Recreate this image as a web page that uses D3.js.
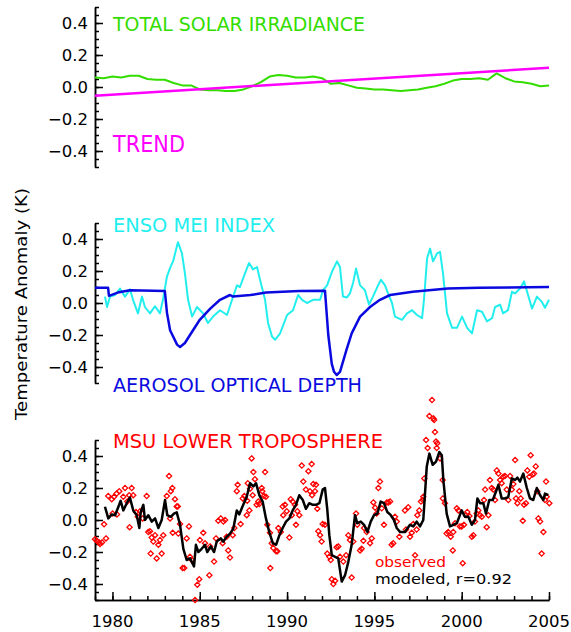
<!DOCTYPE html>
<html>
<head>
<meta charset="utf-8">
<script src="https://cdn.jsdelivr.net/npm/d3@7"></script>
<style>
  body { margin: 0; background: #fff; }
  svg { display: block; }
</style>
</head>
<body>
<div id="chart"></div>
<script>

// ---- data ----

// total solar irradiance (top panel)
var tsiYears = [1979.0,1979.5,1980.0,1980.5,1981.0,1981.5,1982.0,1982.5,1983.0,1983.5,1984.0,1984.5,1985.0,1985.5,1986.0,1986.5,1987.0,1987.5,1988.0,1988.5,1989.0,1989.5,1990.0,1990.5,1991.0,1991.5,1992.0,1992.5,1993.0,1993.5,1994.0,1994.5,1995.0,1995.5,1996.0,1996.5,1997.0,1997.5,1998.0,1998.5,1999.0,1999.5,2000.0,2000.5,2001.0,2001.5,2002.0,2002.5,2003.0,2003.5,2004.0,2004.5,2005.0];
var tsiValues = [0.06,0.055,0.065,0.06,0.07,0.07,0.05,0.045,0.045,0.025,0.01,0.01,-0.015,-0.02,-0.02,-0.025,-0.025,-0.015,0.005,0.03,0.065,0.075,0.07,0.06,0.06,0.065,0.055,0.02,0.025,0.01,-0.005,-0.01,-0.015,-0.015,-0.02,-0.025,-0.02,-0.015,-0.005,0.005,0.02,0.04,0.05,0.05,0.055,0.045,0.085,0.055,0.035,0.03,0.02,0.005,0.01];

var trendYears = [1979, 2005];
var trendValues = [-0.055, 0.12];

// ENSO MEI index (middle panel)
var ensoYears = [1979.57,1979.69,1979.86,1980.15,1980.43,1980.72,1981.0,1981.18,1981.46,1981.69,1981.86,1982.15,1982.44,1982.72,1982.89,1983.12,1983.3,1983.47,1983.75,1983.98,1984.15,1984.33,1984.56,1984.84,1985.19,1985.47,1985.76,1986.16,1986.56,1986.85,1987.13,1987.3,1987.59,1987.82,1988.05,1988.28,1988.45,1988.74,1988.91,1989.14,1989.31,1989.6,1990.0,1990.34,1990.63,1990.86,1991.14,1991.49,1991.89,1992.06,1992.29,1992.57,1992.86,1993.03,1993.2,1993.43,1993.6,1993.78,1993.95,1994.18,1994.46,1994.69,1994.92,1995.21,1995.38,1995.61,1995.78,1996.01,1996.18,1996.58,1996.87,1997.16,1997.44,1997.73,1997.84,1998.02,1998.19,1998.36,1998.59,1998.76,1998.93,1999.16,1999.45,1999.73,2000.02,2000.31,2000.59,2000.88,2001.16,2001.45,2001.74,2001.91,2002.2,2002.37,2002.65,2002.88,2003.05,2003.34,2003.57,2003.8,2004.03,2004.31,2004.6,2004.77,2005.0];
var ensoValues = [0.04,-0.025,0.04,0.05,0.09,0.04,0.085,0.02,-0.065,0.04,-0.025,-0.065,-0.02,-0.065,0.02,0.165,0.22,0.26,0.38,0.31,0.185,0.02,-0.085,-0.025,-0.065,-0.125,-0.085,-0.045,-0.075,0.02,0.11,0.1,0.185,0.25,0.21,0.225,0.145,0.02,-0.125,-0.21,-0.23,-0.19,-0.075,-0.045,0.05,0.02,0,0.02,0.02,0.08,0.11,0.195,0.26,0.225,0.04,0.035,0.06,0.125,0.215,0.11,0.08,-0.01,0.04,0.11,0.145,0.11,0.06,0,-0.085,-0.105,-0.065,-0.045,-0.075,-0.095,0.02,0.28,0.34,0.26,0.31,0.32,0.185,-0.065,-0.155,-0.155,-0.085,-0.155,-0.19,-0.045,-0.055,-0.115,-0.095,-0.025,-0.01,-0.065,-0.045,0.07,0.06,0.09,0.135,0.05,-0.035,0.04,0.005,-0.03,0.02];

// aerosol optical depth (middle panel)
var aodYears = [1979.0,1979.75,1979.8,1980.3,1981.0,1983.0,1983.12,1983.3,1983.7,1983.87,1984.15,1984.44,1985.0,1985.6,1986.16,1986.73,1986.9,1987.9,1988.8,1990.7,1992.17,1992.36,1992.46,1992.56,1992.69,1992.84,1993.03,1993.41,1993.7,1994.18,1994.75,1995.32,1995.9,1997.2,1999.2,2001.0,2005.0];
var aodValues = [0.095,0.095,0.045,0.065,0.08,0.075,-0.06,-0.17,-0.26,-0.275,-0.25,-0.2,-0.105,-0.035,0.02,0.05,0.04,0.05,0.065,0.075,0.077,-0.2,-0.29,-0.38,-0.43,-0.45,-0.43,-0.29,-0.19,-0.085,-0.025,0.02,0.05,0.07,0.09,0.095,0.1];

// MSU lower troposphere, observed (bottom panel)
var obsYears = [1979.0,1979.11,1979.23,1979.29,1979.4,1979.52,1979.63,1979.76,1979.96,1980.01,1980.09,1980.24,1980.26,1980.39,1980.62,1980.72,1980.85,1980.96,1980.98,1981.1,1981.19,1981.35,1981.45,1981.58,1981.73,1981.96,1982.05,1982.15,1982.19,1982.25,1982.34,1982.44,1982.53,1982.63,1982.72,1982.82,1982.91,1983.11,1983.24,1983.3,1983.34,1983.43,1983.45,1983.58,1983.68,1983.74,1983.77,1983.87,1984.02,1984.11,1984.25,1984.38,1984.44,1984.54,1984.73,1984.86,1984.97,1985.01,1985.2,1985.3,1985.55,1985.59,1985.82,1985.93,1986.06,1986.2,1986.31,1986.35,1986.45,1986.54,1986.63,1986.73,1986.89,1986.98,1987.12,1987.17,1987.34,1987.46,1987.55,1987.69,1987.72,1987.75,1987.84,1987.88,1987.97,1988.03,1988.07,1988.16,1988.26,1988.35,1988.41,1988.55,1988.58,1988.68,1988.74,1988.79,1988.87,1989.02,1989.04,1989.12,1989.21,1989.37,1989.44,1989.5,1989.64,1989.75,1989.78,1989.88,1989.98,1990.13,1990.21,1990.27,1990.32,1990.45,1990.51,1990.59,1990.7,1990.84,1990.93,1991.08,1991.22,1991.31,1991.41,1991.43,1991.5,1991.6,1991.66,1991.73,1991.79,1991.89,1991.98,1992.04,1992.17,1992.3,1992.42,1992.5,1992.56,1992.65,1992.75,1992.84,1992.93,1993.03,1993.22,1993.38,1993.51,1993.6,1993.7,1993.79,1993.95,1994.02,1994.18,1994.27,1994.37,1994.41,1994.56,1994.75,1994.85,1994.94,1995.04,1995.13,1995.23,1995.32,1995.42,1995.55,1995.71,1995.8,1995.9,1995.99,1996.08,1996.18,1996.28,1996.43,1996.75,1996.81,1996.94,1997.04,1997.14,1997.23,1997.33,1997.42,1997.46,1997.57,1997.67,1997.77,1997.8,1997.86,1997.96,1998.05,1998.15,1998.3,1998.38,1998.42,1998.47,1998.53,1998.57,1998.6,1998.76,1998.91,1998.92,1999.04,1999.14,1999.23,1999.37,1999.49,1999.52,1999.62,1999.72,1999.81,1999.9,2000.0,2000.06,2000.13,2000.25,2000.32,2000.44,2000.58,2000.67,2000.76,2000.86,2000.95,2001.05,2001.15,2001.28,2001.34,2001.43,2001.53,2001.62,2001.72,2001.81,2001.91,2002.01,2002.1,2002.2,2002.29,2002.38,2002.48,2002.58,2002.67,2002.77,2002.87,2002.96,2003.06,2003.11,2003.19,2003.3,2003.38,2003.5,2003.57,2003.68,2003.76,2003.87,2003.95,2004.07,2004.14,2004.24,2004.33,2004.39,2004.49,2004.58,2004.68,2004.77,2004.83,2004.87,2005.02];
var obsValues = [-0.12,-0.13,-0.14,-0.15,-0.14,-0.027,-0.115,0.15,0.13,0.04,0.145,0.165,0.035,0.18,0.145,0.2,0.115,0.155,-0.045,0.2,0.155,0.05,0.02,0.055,0.01,0.15,-0.075,-0.07,-0.21,-0.11,-0.135,-0.095,-0.24,-0.155,-0.125,-0.21,-0.095,0.15,0.275,0.01,0.18,0.2,-0.08,0.13,0.085,0.085,-0.085,-0.025,-0.3,-0.3,-0.115,-0.04,-0.23,-0.25,-0.5,-0.405,-0.37,-0.125,-0.08,-0.145,-0.345,-0.165,-0.26,-0.115,-0.005,0.01,-0.145,-0.01,0.0,-0.105,-0.19,-0.235,-0.095,-0.05,0.18,0.22,-0.025,0.135,0.15,0.03,0.12,0.23,0.06,0.195,0.385,0.155,0.3,0.255,0.095,0.115,0.1,0.2,0.18,0.15,0.3,0.145,-0.03,-0.08,-0.3,-0.145,-0.175,-0.195,-0.195,-0.05,-0.075,0.085,0.03,0.095,0.055,-0.11,0.13,0.03,0.115,0.095,-0.03,0.055,0.03,0.34,0.24,0.19,0.305,0.18,0.35,0.155,0.225,0.18,0.22,0.07,-0.07,-0.095,-0.135,-0.025,-0.03,-0.21,-0.23,-0.25,-0.37,-0.4,-0.38,-0.17,-0.165,-0.23,-0.26,-0.22,-0.095,-0.125,-0.36,-0.135,0.04,-0.03,-0.19,-0.18,-0.13,-0.05,-0.075,-0.145,-0.115,0.11,0.077,0.04,0.2,0.24,0.073,-0.03,0.11,0.11,0.115,-0.155,-0.145,0.02,-0.01,-0.105,0.06,-0.06,0.08,-0.105,-0.08,-0.025,-0.22,-0.06,0.03,0.06,0.115,0.125,0.145,0.26,0.5,0.45,0.65,0.75,0.635,0.625,0.55,0.49,0.45,0.48,0.385,0.25,0.135,0.105,-0.085,-0.075,-0.105,-0.19,-0.075,-0.02,0.073,0.06,-0.04,-0.04,-0.27,-0.03,0.03,0.05,0.025,-0.105,-0.095,-0.01,0.04,0.06,0.03,0.02,0.125,0.19,-0.045,0.03,0.25,0.2,0.19,0.125,0.31,0.29,0.25,0.23,0.27,0.275,0.19,0.125,0.275,0.19,0.225,0.375,0.135,0.105,0.18,0.135,-0.005,0.095,0.105,0.31,0.27,0.405,0.285,0.29,0.335,0.18,0.01,-0.01,-0.21,-0.075,0.125,0.24,0.145,0.105];

// MSU lower troposphere, modeled
var modYears = [1979.57,1979.76,1979.96,1980.15,1980.33,1980.47,1980.62,1980.82,1981.0,1981.19,1981.39,1981.54,1981.62,1981.77,1981.86,1982.05,1982.25,1982.44,1982.63,1982.82,1983.01,1983.14,1983.34,1983.52,1983.68,1983.87,1984.06,1984.25,1984.44,1984.67,1984.78,1984.92,1985.11,1985.3,1985.43,1985.63,1985.82,1985.97,1986.2,1986.35,1986.54,1986.73,1986.92,1987.12,1987.26,1987.49,1987.69,1987.88,1988.07,1988.22,1988.41,1988.6,1988.79,1988.98,1989.18,1989.37,1989.56,1989.75,1989.94,1990.13,1990.32,1990.51,1990.7,1990.9,1991.08,1991.27,1991.47,1991.66,1991.85,1992.04,1992.17,1992.3,1992.42,1992.56,1992.75,1992.93,1993.13,1993.32,1993.51,1993.7,1993.89,1994.02,1994.22,1994.41,1994.6,1994.79,1994.98,1995.17,1995.36,1995.55,1995.74,1995.94,1996.12,1996.28,1996.47,1996.75,1997.04,1997.23,1997.42,1997.61,1997.8,1998.0,1998.15,1998.34,1998.53,1998.72,1998.86,1998.95,1999.14,1999.33,1999.52,1999.72,2000.0,2000.19,2000.38,2000.58,2000.76,2000.9,2001.05,2001.24,2001.39,2001.58,2001.78,2001.97,2002.1,2002.29,2002.48,2002.67,2002.87,2003.06,2003.19,2003.34,2003.53,2003.73,2003.91,2004.1,2004.3,2004.49,2004.68,2004.77,2004.96];
var modValues = [0.083,0.01,0.035,0.03,0.08,0.12,0.06,0.105,0.14,0.06,0.03,-0.05,0.05,0.095,0.0,0.03,-0.01,0.01,-0.05,0.0,0.125,0.03,0.02,0.04,0.048,-0.03,-0.18,-0.25,-0.24,-0.29,-0.155,-0.2,-0.18,-0.155,-0.2,-0.165,-0.2,-0.135,-0.115,-0.135,-0.105,-0.085,-0.055,0.06,0.035,0.095,0.145,0.23,0.21,0.23,0.155,0.115,0.01,-0.075,-0.145,-0.155,-0.095,-0.05,-0.01,0.01,0.06,0.095,0.155,0.125,0.07,0.105,0.095,0.095,0.105,0.19,0.2,0.07,-0.095,-0.22,-0.23,-0.24,-0.385,-0.345,-0.26,-0.155,0.03,-0.02,-0.01,-0.03,-0.075,-0.01,0.03,0.04,0.115,0.105,0.05,0.03,0.0,-0.05,-0.075,-0.075,-0.03,-0.04,-0.01,-0.04,0.0,0.335,0.415,0.345,0.365,0.425,0.405,0.25,0.04,-0.04,-0.03,-0.02,0.06,0.02,0.02,-0.03,0.0,0.135,0.105,0.105,0.04,0.125,0.125,0.18,0.22,0.135,0.135,0.145,0.26,0.25,0.265,0.24,0.29,0.2,0.135,0.125,0.2,0.155,0.125,0.165,0.155];

// axis ticks
var yMajorTicks = [-0.4, -0.2, 0.0, 0.2, 0.4];
var yTickLabels = ["\u22120.4", "\u22120.2", "0.0", "0.2", "0.4"];
var xMajorTicks = [1980, 1985, 1990, 1995, 2000, 2005];

// ---- layout ----
var width = 571, height = 632;
var panelTops = [7, 223, 440], panelH = 160;
var tickFont = "'DejaVu Sans', sans-serif";
var labelFont = "'DejaVu Sans Condensed', 'DejaVu Sans', sans-serif";

var svg = d3.select("#chart").append("svg")
  .attr("width", width)
  .attr("height", height)
  .style("background", "#fff");

var x = d3.scaleLinear().domain([1979, 2005]).range([95, 549]);

function pairs(xs, ys) {
  return xs.map(function(d, i) { return [d, ys[i]]; });
}

var yMinor = d3.range(-10, 11).map(function(i) { return i * 0.05; });

var yScales = panelTops.map(function(top) {
  return d3.scaleLinear().domain([-0.5, 0.5]).range([top + panelH, top]);
});

// left axis on every panel, ticks point inward
yScales.forEach(function(y) {
  var minorAxis = d3.axisRight(y).tickValues(yMinor).tickSize(4).tickSizeOuter(0).tickFormat("");
  var majorAxis = d3.axisRight(y).tickValues(yMajorTicks).tickSize(8).tickSizeOuter(0).tickFormat("");
  var g1 = svg.append("g").attr("transform", "translate(95,0)").call(minorAxis);
  var g2 = svg.append("g").attr("transform", "translate(95,0)").call(majorAxis);
  [g1, g2].forEach(function(g) {
    g.selectAll("path, line").attr("stroke", "#000").attr("stroke-width", 1.5);
  });

  svg.append("g").selectAll("text")
    .data(yMajorTicks)
    .enter().append("text")
      .attr("x", 88)
      .attr("y", function(d) { return y(d) + 6; })
      .attr("text-anchor", "end")
      .attr("font-family", tickFont)
      .attr("font-size", 16.5)
      .attr("fill", "#000")
      .text(function(d, i) { return yTickLabels[i]; });
});

// bottom x axis
var yBottom = panelTops[2] + panelH;
var xMinor = d3.range(1979, 2006);
var gx1 = svg.append("g").attr("transform", "translate(0," + yBottom + ")")
  .call(d3.axisTop(x).tickValues(xMinor).tickSize(4).tickSizeOuter(0).tickFormat(""));
var gx2 = svg.append("g").attr("transform", "translate(0," + yBottom + ")")
  .call(d3.axisTop(x).tickValues(xMajorTicks).tickSize(8).tickSizeOuter(0).tickFormat(""));
[gx1, gx2].forEach(function(g) {
  g.selectAll("path, line").attr("stroke", "#000").attr("stroke-width", 1.5);
});
svg.append("g").selectAll("text")
  .data(xMajorTicks)
  .enter().append("text")
    .attr("x", function(d) { return x(d); })
    .attr("y", 627)
    .attr("text-anchor", "middle")
    .attr("font-family", tickFont)
    .attr("font-size", 16.5)
    .text(function(d) { return d; });

// y axis title
svg.append("text")
  .attr("transform", "translate(27,304) rotate(-90)")
  .attr("text-anchor", "middle")
  .attr("font-family", tickFont)
  .attr("font-size", 16.5)
  .attr("textLength", 232)
  .attr("lengthAdjust", "spacingAndGlyphs")
  .text("Temperature Anomaly (K)");

function drawLine(xs, ys, y, color, w) {
  var line = d3.line()
    .x(function(d) { return x(d[0]); })
    .y(function(d) { return y(d[1]); });
  svg.append("path")
    .datum(pairs(xs, ys))
    .attr("d", line)
    .attr("fill", "none")
    .attr("stroke", color)
    .attr("stroke-width", w)
    .attr("stroke-linejoin", "round");
}

function label(txt, x0, base, len, size, color) {
  svg.append("text")
    .attr("x", x0)
    .attr("y", base)
    .attr("font-family", labelFont)
    .attr("font-size", size)
    .attr("textLength", len)
    .attr("lengthAdjust", "spacingAndGlyphs")
    .attr("fill", color)
    .text(txt);
}

// top panel
drawLine(tsiYears, tsiValues, yScales[0], "#33dd00", 2);
drawLine(trendYears, trendValues, yScales[0], "#ff00ff", 2.5);
label("TOTAL SOLAR IRRADIANCE", 113, 31, 252, 19, "#33dd00");
label("TREND", 113, 152, 72, 23, "#ff00ff");

// middle panel
drawLine(ensoYears, ensoValues, yScales[1], "#22eeee", 2);
drawLine(aodYears, aodValues, yScales[1], "#0a0ae0", 2.5);
label("ENSO MEI INDEX", 113, 232, 162, 19, "#22eeee");
label("AEROSOL OPTICAL DEPTH", 113, 392, 249, 19, "#0a0ae0");

// bottom panel
var yb = yScales[2];
svg.append("g").selectAll("path")
  .data(pairs(obsYears, obsValues))
  .enter().append("path")
    .attr("d", function(d) {
      var cx = x(d[0]), cy = yb(d[1]), r = 2.6;
      return "M" + cx + "," + (cy - r) + "L" + (cx + r) + "," + cy + "L" + cx + "," + (cy + r) + "L" + (cx - r) + "," + cy + "Z";
    })
    .attr("fill", "none")
    .attr("stroke", "#ff0000")
    .attr("stroke-width", 1.3);
drawLine(modYears, modValues, yb, "#000", 2.5);
label("MSU LOWER TROPOSPHERE", 113, 448, 270, 19, "#ff0000");

// legend text, sized so the two lines do not collide
label("observed", 375, 567, 71, 14, "#ff0000");
svg.append("text")
  .attr("x", 375).attr("y", 584)
  .attr("font-family", tickFont).attr("font-size", 14)
  .attr("textLength", 137)
  .attr("lengthAdjust", "spacingAndGlyphs")
  .attr("fill", "#000")
  .text("modeled, r=0.92");

</script>
</body>
</html>
